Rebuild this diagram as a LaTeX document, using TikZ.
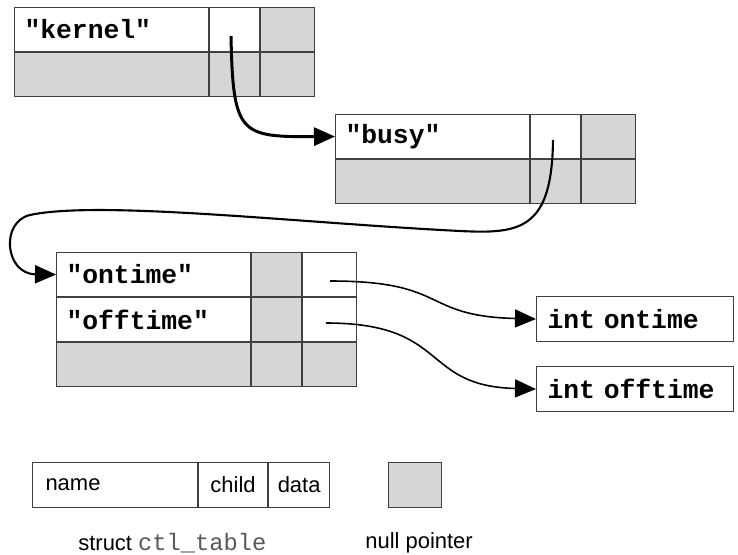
\documentclass[tikz,border=0pt]{standalone}
\usepackage{fontspec}
\setmainfont{Liberation Sans}
\setmonofont{Liberation Mono}[WordSpace=1.5]
\usetikzlibrary{arrows.meta,positioning}

\begin{document}
\begin{tikzpicture}[
    x=0.2mm, y=-0.2mm,
    cell/.style={
        draw=black!75,
        line width=0.6pt,
        anchor=north west,
        inner sep=0pt,
        minimum height=0.88cm
    },
    namecell/.style={
        cell,
        inner xsep=0.2cm,
        text width=3.48cm,
        align=left,
        font=\fontsize{15}{16}\selectfont\ttfamily\bfseries
    },
    childcell/.style={cell, minimum width=1cm},
    datacell/.style={cell, minimum width=1.08cm},
    nullcell/.style={fill=black!16},
    intbox/.style={
        cell,
        inner xsep=0.22cm,
        text width=3.5cm,
        align=left,
        minimum height=0.9cm,
        font=\fontsize{15}{16}\selectfont\ttfamily\bfseries
    },
    legendcell/.style={
        cell,
        minimum height=0.9cm,
        font=\fontsize{12.5}{14}\selectfont
    },
    legendtext/.style={anchor=west, inner sep=0pt, font=\fontsize{12.5}{14}\selectfont},
    ptr/.style={-{Triangle[length=0.42cm,width=0.36cm]}, line width=0.9pt}
]
    \useasboundingbox (0,0) rectangle (738,555);

    % table "kernel"
    \node[namecell] (k11) at (14,7) {"kernel"};
    \node[childcell] (k12) at (k11.north east) {};
    \node[datacell, nullcell] (k13) at (k12.north east) {};
    \node[namecell, nullcell] (k21) at (k11.south west) {};
    \node[childcell, nullcell] (k22) at (k21.north east) {};
    \node[datacell, nullcell] (k23) at (k22.north east) {};

    % table "busy"
    \node[namecell] (b11) at (335,114) {"busy"};
    \node[childcell] (b12) at (b11.north east) {};
    \node[datacell, nullcell] (b13) at (b12.north east) {};
    \node[namecell, nullcell] (b21) at (b11.south west) {};
    \node[childcell, nullcell] (b22) at (b21.north east) {};
    \node[datacell, nullcell] (b23) at (b22.north east) {};

    % table "ontime" / "offtime"
    \node[namecell] (o11) at (56,252) {"ontime"};
    \node[childcell, nullcell] (o12) at (o11.north east) {};
    \node[datacell] (o13) at (o12.north east) {};
    \node[namecell] (o21) at (o11.south west) {"offtime"};
    \node[childcell, nullcell] (o22) at (o21.north east) {};
    \node[datacell] (o23) at (o22.north east) {};
    \node[namecell, nullcell] (o31) at (o21.south west) {};
    \node[childcell, nullcell] (o32) at (o31.north east) {};
    \node[datacell, nullcell] (o33) at (o32.north east) {};

    % data
    \node[intbox] (ion) at (536,296) {int ontime};
    \node[intbox] (ioff) at (536,366) {int offtime};

    % legend
    \node[legendcell, inner xsep=0.26cm, text width=2.78cm, align=left] (lname) at (32,462) {name};
    \node[legendcell, minimum width=1.38cm] (lchild) at (lname.north east) {child};
    \node[legendcell, minimum width=1.22cm] (ldata) at (lchild.north east) {data};
    \node[legendcell, nullcell, minimum width=1.06cm] (lnull) at (388,462) {};
    \node[legendtext] (lstruct) at (78,543)
        {struct {\fontsize{13.5}{14}\selectfont\ttfamily\color{black!65}ctl\_table}};
    \node[legendtext] (lnulltext) at (365,543) {null pointer};

    % pointers
    \coordinate (kptr) at (231,36);
    \coordinate (bptr) at (553,140);
    \coordinate (onptr) at (330,281);
    \coordinate (offptr) at (326,323);

    \draw[ptr, line width=1.7pt] (kptr) .. controls (233,135) and (240,137) .. (b11.west);
    \draw[ptr, line width=1.2pt] (bptr) .. controls (552,230) and (520,234) .. (460,231)
        .. controls (300,223) and (100,200) .. (30,215)
        .. controls (0,222) and (5,274) .. (o11.west);
    \draw[ptr] (onptr) .. controls (450,281) and (420,316) .. (ion.west);
    \draw[ptr] (offptr) .. controls (450,323) and (420,386) .. (ioff.west);
\end{tikzpicture}
\end{document}
